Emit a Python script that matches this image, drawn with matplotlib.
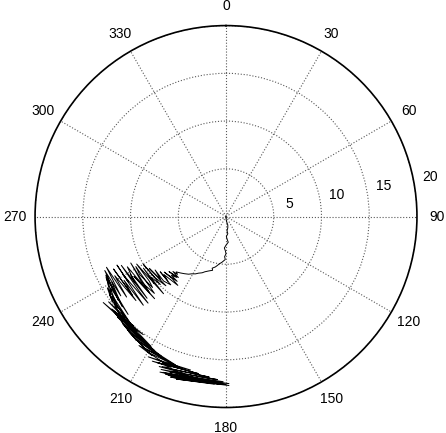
import numpy as np
import matplotlib
matplotlib.use("Agg")
import matplotlib.pyplot as plt

plt.rcParams['font.family'] = ['Liberation Sans', 'DejaVu Sans']

# path near the origin (degrees clockwise from north, radius)
theta_inner = [180, 178, 172, 168, 171, 176, 174, 179, 177, 175,
               180, 183, 181, 180, 182, 181, 185, 188, 190, 192,
               195, 194, 198, 201, 203, 206, 208, 211, 213, 216,
               219, 222]
r_inner = [0.0, 0.3, 0.6, 0.9, 1.2, 1.5, 1.8, 2.1, 2.4, 2.7,
           3.0, 3.3, 3.6, 3.9, 4.2, 4.5, 4.8, 5.0, 5.2, 5.4,
           5.6, 5.8, 6.0, 6.2, 6.4, 6.6, 6.8, 7.0, 7.2, 7.4,
           7.6, 7.8]

# noisy middle part
theta_mid = [220, 224, 218, 226, 219, 223, 217, 228, 221, 215,
             227, 222, 230, 219, 224, 233, 226, 236, 221, 229,
             240, 224, 231, 227, 238, 219, 242, 230, 226, 236,
             241, 223, 232, 244, 225, 237, 221, 243, 234, 239,
             224, 245, 229, 222, 241, 236, 246, 223, 238, 230,
             245, 227, 242, 231, 247, 233]
r_mid = [7.9, 8.0, 8.1, 8.3, 8.2, 8.4, 8.5, 8.7, 8.6, 8.8,
         8.9, 9.1, 9.0, 9.2, 9.4, 9.3, 9.5, 9.7, 9.6, 9.8,
         10.0, 9.9, 10.1, 10.3, 10.2, 10.4, 10.6, 10.5, 10.7, 10.9,
         10.8, 11.0, 11.2, 11.1, 11.3, 11.5, 11.4, 11.6, 11.8, 11.7,
         11.9, 12.1, 12.0, 12.2, 12.4, 12.3, 12.5, 12.7, 12.6, 12.8,
         13.0, 12.9, 13.2, 13.4, 13.6, 13.8]

# outer band swinging back towards 180
theta_outer = [246, 232, 240, 229, 244, 236, 238, 225, 243, 230,
               235, 233, 239, 222, 236, 228, 232, 218, 235, 210,
               234, 224, 229, 220, 231, 215, 227, 222, 214, 230,
               219, 225, 208, 224, 216, 221, 205, 220, 212, 217,
               203, 216, 199, 212, 208, 214, 196, 210, 202, 193,
               209, 198, 205, 190, 207, 200, 203, 186, 204, 195,
               200, 183, 203, 190, 198, 181, 202, 188, 196, 179,
               201, 185, 199, 180, 203, 184, 197, 179, 200, 182]
r_outer = [13.9, 14.3, 13.8, 14.4, 14.0, 14.6, 14.2, 14.5, 14.1, 14.8,
           14.6, 14.9, 14.5, 15.0, 14.7, 15.1, 14.8, 15.2, 15.7, 15.7,
           15.2, 14.9, 15.3, 15.0, 15.4, 15.1, 15.5, 15.2, 15.6, 15.4,
           15.8, 15.5, 15.9, 15.6, 16.0, 15.7, 16.1, 15.8, 16.2, 15.9,
           16.3, 16.0, 16.4, 16.2, 16.5, 16.3, 16.6, 16.4, 16.7, 16.5,
           16.8, 16.6, 16.9, 16.7, 17.0, 16.8, 17.1, 16.9, 17.2, 17.0,
           17.3, 17.1, 17.4, 17.2, 17.5, 17.3, 17.6, 17.4, 17.7, 17.5,
           17.7, 17.5, 17.8, 17.6, 17.7, 17.6, 17.8, 17.7, 17.7, 17.6]

angle_ticks = [0, 30, 60, 90, 120, 150, 180, 210, 240, 270, 300, 330]
radius_ticks = [5, 10, 15, 20]

theta = np.deg2rad(theta_inner + theta_mid + theta_outer)
r = np.array(r_inner + r_mid + r_outer)

fig = plt.figure(figsize=(4.46, 4.33), dpi=100)
ax = fig.add_axes([0.0785, 0.0589, 0.8565, 0.882], projection='polar')
ax.set_theta_zero_location('N')
ax.set_theta_direction(-1)

ax.plot(theta, r, color='black', linewidth=0.7)

ax.set_ylim(0, 20)
ax.set_xticks(np.deg2rad(angle_ticks))
ax.set_yticks(radius_ticks)
ax.set_xticklabels([])
ax.set_yticklabels([])
ax.grid(True, linestyle=':', color='0.35', linewidth=0.8)
ax.spines['polar'].set_linewidth(1.2)

for a in angle_ticks:
    ax.text(np.deg2rad(a), 22.1, str(a), ha='center', va='center',
            fontsize=10, clip_on=False)
for rv in radius_ticks:
    ax.text(np.deg2rad(79), rv + 1.8, str(rv), ha='center', va='center',
            fontsize=10, clip_on=False)

fig.savefig("out.png", dpi=100)
